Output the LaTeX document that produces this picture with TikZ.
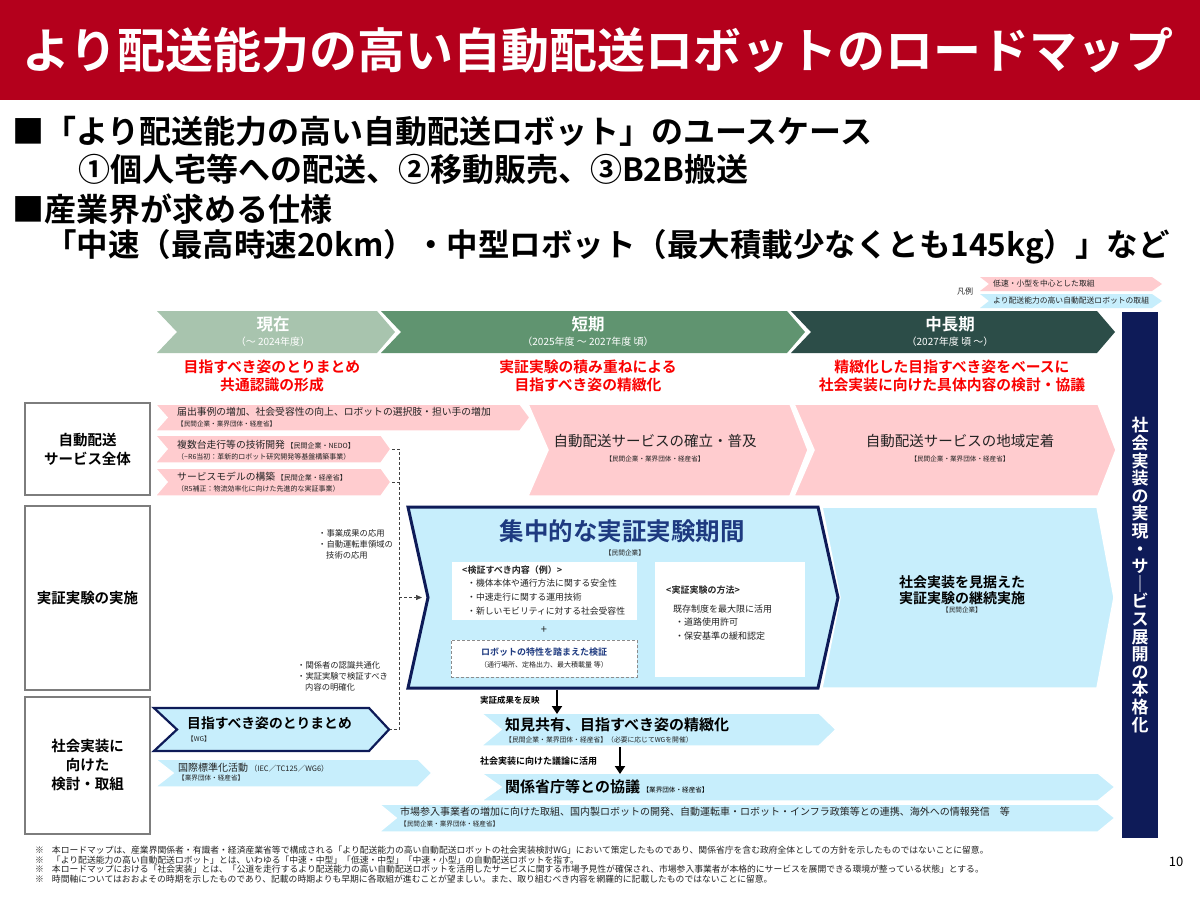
\documentclass[tikz,border=0pt]{standalone}
\usepackage{fontspec}
\setmainfont{Noto Sans CJK JP}[BoldFont={Noto Sans CJK JP Bold}]
\usetikzlibrary{arrows.meta}
\definecolor{titlered}{RGB}{180,0,28}
\definecolor{pinkf}{RGB}{255,204,207}
\definecolor{bluef}{RGB}{199,238,252}
\definecolor{navy}{RGB}{14,27,88}
\definecolor{navytxt}{RGB}{30,58,128}
\definecolor{phA}{RGB}{168,196,174}
\definecolor{phB}{RGB}{96,148,112}
\definecolor{phC}{RGB}{44,77,72}
\definecolor{redtxt}{RGB}{250,0,0}
\definecolor{txt}{RGB}{35,35,35}
\definecolor{boxgray}{RGB}{125,125,125}
\newcommand\fs[1]{\fontsize{#1}{#1}\selectfont}
\newcommand\chevshape[7]{\path[#1] (#2,#3) -- (#4,#3) -- ({#4+#7},{(#3+#5)/2}) -- (#4,#5) -- (#2,#5) -- ({#2+#6},{(#3+#5)/2}) -- cycle;}
\tikzset{
  lbl/.style={inner sep=0pt, text=txt},
  lw/.style={lbl, anchor=west},
  pinkbox/.style={fill=pinkf, draw=white, line width=1.5pt, line join=miter},
  bluebox/.style={fill=bluef, draw=white, line width=1.5pt, line join=miter},
  navybox/.style={fill=bluef, draw=navy, line join=miter},
  rowbox/.style={draw=boxgray, line width=1.2pt, fill=white, inner sep=0pt, align=center, text=black, font={\bfseries\fontsize{14.5}{19}\selectfont}},
  dconn/.style={draw=black!75, densely dashed, line width=0.7pt},
  thickarrow/.style={draw=black, line width=2.4pt, -{Triangle[width=10pt,length=8pt]}},
}
\begin{document}
\begin{tikzpicture}[x=1pt,y=-1pt]
\useasboundingbox (0,0) rectangle (1200,900);
\fill[white] (0,0) rectangle (1200,900);

% ---------- title bar ----------
\fill[titlered] (0,0) rectangle (1200,100);
\node[anchor=west, inner sep=0pt, text=white, font={\bfseries\fs{48}}] (title) at (22,50) {より配送能力の高い自動配送ロボットのロードマップ};

% ---------- bullets ----------
\node[anchor=west, inner sep=0pt, text=black, font={\bfseries\fs{32}}] (b1) at (12,131) {■「より配送能力の高い自動配送ロボット」のユースケース};
\node[anchor=west, inner sep=0pt, text=black, font={\bfseries\fs{32}}] (b2) at (78,169) {①個人宅等への配送、②移動販売、③B2B搬送};
\node[anchor=west, inner sep=0pt, text=black, font={\bfseries\fs{32}}] (b3) at (12,209) {■産業界が求める仕様};
\node[anchor=west, inner sep=0pt, text=black, font={\bfseries\fs{31.5}}] (b4) at (45,247) {「中速（最高時速20km）・中型ロボット（最大積載少なくとも145kg）」など};

% ---------- legend ----------
\node[lbl, font={\fs{8}}] (legend) at (965,291) {凡例};
\chevshape{fill=pinkf}{980}{277}{1152}{291}{9}{10}
\node[lw, font={\fs{7.8}}] (lg1) at (993,284) {低速・小型を中心とした取組};
\chevshape{fill=bluef}{980}{294}{1152}{308}{9}{10}
\node[lw, font={\fs{7.8}}] (lg2) at (993,301) {より配送能力の高い自動配送ロボットの取組};

% ---------- phase headers ----------
\chevshape{fill=phA}{157}{311}{377}{353}{20}{18}
\chevshape{fill=phB}{381}{311}{787}{353}{20}{18}
\chevshape{fill=phC}{791}{311}{1097}{353}{20}{18}
\node[inner sep=0pt, text=white, font={\bfseries\fs{16.5}}] (p1) at (273,324) {現在};
\node[inner sep=0pt, text=white, font={\fs{10}}] (p1y) at (273,342) {（～ 2024年度）};
\node[inner sep=0pt, text=white, font={\bfseries\fs{16.5}}] (p2) at (588,324) {短期};
\node[inner sep=0pt, text=white, font={\fs{10}}] (p2y) at (588,342) {（2025年度 ～ 2027年度 頃）};
\node[inner sep=0pt, text=white, font={\bfseries\fs{16.5}}] (p3) at (950,324) {中長期};
\node[inner sep=0pt, text=white, font={\fs{10}}] (p3y) at (950,342) {（2027年度 頃 ～）};

\node[inner sep=0pt, text=redtxt, align=center, font={\bfseries\fontsize{14.8}{18}\selectfont}] (g1) at (272,376) {目指すべき姿のとりまとめ\\共通認識の形成};
\node[inner sep=0pt, text=redtxt, align=center, font={\bfseries\fontsize{14.8}{18}\selectfont}] (g2) at (588,376) {実証実験の積み重ねによる\\目指すべき姿の精緻化};
\node[inner sep=0pt, text=redtxt, align=center, font={\bfseries\fontsize{14.8}{18}\selectfont}] (g3) at (952,376) {精緻化した目指すべき姿をベースに\\社会実装に向けた具体内容の検討・協議};

% ---------- right navy bar ----------
\fill[navy] (1122,312) rectangle (1158,838);
\node[inner sep=0pt, text=white, align=center, font={\bfseries\fontsize{17}{17.6}\selectfont}] (vbar) at (1140,575) {社\\会\\実\\装\\の\\実\\現\\・\\サ\\｜\\ビ\\ス\\展\\開\\の\\本\\格\\化};

% ---------- row labels ----------
\node[rowbox, minimum width=125pt, minimum height=92pt] (r1) at (87.5,449) {自動配送\\サービス全体};
\node[rowbox, minimum width=125pt, minimum height=184pt] (r2) at (87.5,598) {実証実験の実施};
\node[rowbox, minimum width=125pt, minimum height=137pt] (r3) at (87.5,765.5) {社会実装に\\向けた\\検討・取組};

% ---------- row 1 (pink) ----------
\chevshape{pinkbox}{528}{404}{790}{496}{20}{18}
\chevshape{pinkbox}{794}{404}{1098}{496}{20}{18}
\chevshape{pinkbox}{155}{404}{520}{431}{12}{10}
\chevshape{pinkbox}{155}{435}{381}{463}{12}{10}
\chevshape{pinkbox}{155}{468}{381}{496}{12}{10}

\node[lw, font={\fs{9.8}}] (a1) at (177,412) {届出事例の増加、社会受容性の向上、ロボットの選択肢・担い手の増加};
\node[lw, font={\fs{6.6}}] (a1s) at (177,424) {【民間企業・業界団体・経産省】};
\node[lw, font={\fs{9.8}}] (a2) at (177,445) {複数台走行等の技術開発\,{\fs{7}【民間企業・NEDO】}};
\node[lw, font={\fs{7}}] (a2s) at (177,457) {（\textasciitilde R6当初：革新的ロボット研究開発等基盤構築事業）};
\node[lw, font={\fs{9.8}}] (a3) at (177,477) {サービスモデルの構築\,{\fs{7}【民間企業・経産省】}};
\node[lw, font={\fs{7}}] (a3s) at (177,489) {（R5補正：物流効率化に向けた先進的な実証事業）};

\node[lbl, font={\fs{14.5}}] (s1) at (655,441) {自動配送サービスの確立・普及};
\node[lbl, font={\fs{6.6}}] (s1s) at (655,459) {【民間企業・業界団体・経産省】};
\node[lbl, font={\fs{14.5}}] (s2) at (960,441) {自動配送サービスの地域定着};
\node[lbl, font={\fs{6.6}}] (s2s) at (960,459) {【民間企業・業界団体・経産省】};

% ---------- row 2 ----------
\chevshape{bluebox}{822}{507}{1097}{688}{18}{17}
\chevshape{navybox, line width=3pt}{408}{507}{818}{688}{20}{20}
\coordinate (notch) at (428,597.5);

\node[inner sep=0pt, text=navytxt, font={\bfseries\fs{24.5}}] (ct1) at (622,531) {集中的な実証実験期間};
\node[lbl, font={\fs{6.7}}] (ct2) at (625,553) {【民間企業】};

\node[fill=white, inner sep=0pt, minimum width=185pt, minimum height=58pt] (wb1) at (544.5,591) {};
\node[lw, font={\bfseries\fs{9}}] (w1h) at (462,570) {<検証すべき内容（例）>};
\node[lw, font={\fs{8.8}}] (w1a) at (467,583) {・機体本体や通行方法に関する安全性};
\node[lw, font={\fs{8.8}}] (w1b) at (467,597) {・中速走行に関する運用技術};
\node[lw, font={\fs{8.8}}] (w1c) at (467,611) {・新しいモビリティに対する社会受容性};
\node[lbl, font={\fs{11}}] (plus) at (544,630) {+};
\node[fill=white, draw=black!45, densely dashed, line width=0.6pt, inner sep=0pt, minimum width=186pt, minimum height=37pt] (db) at (544,658.5) {};
\node[inner sep=0pt, text=navytxt, font={\bfseries\fs{9}}] (dbt) at (544,652) {ロボットの特性を踏まえた検証};
\node[lbl, font={\fs{7}}] (dbs) at (544,665) {（通行場所、定格出力、最大積載量 等）};

\node[fill=white, inner sep=0pt, minimum width=150pt, minimum height=115pt] (wb2) at (730,619.5) {};
\node[lw, font={\bfseries\fs{9}}] (w2h) at (666,590) {<実証実験の方法>};
\node[lw, font={\fs{9}}] (w2a) at (673,609) {既存制度を最大限に活用};
\node[lw, font={\fs{9}}] (w2b) at (675,622) {・道路使用許可};
\node[lw, font={\fs{9}}] (w2c) at (675,636) {・保安基準の緩和認定};

\node[inner sep=0pt, text=black, align=center, font={\bfseries\fontsize{14}{16}\selectfont}] (rb) at (962,590) {社会実装を見据えた\\実証実験の継続実施};
\node[lbl, font={\fs{6.6}}] (rbs) at (962,610) {【民間企業】};

\node[lw, font={\fs{8.3}}] (n1) at (318,533) {・事業成果の応用};
\node[lw, font={\fs{8.3}}] (n2) at (318,544) {・自動運転車領域の};
\node[lw, font={\fs{8.3}}] (n3) at (326,555) {技術の応用};
\node[lw, font={\fs{8.3}}] (n4) at (297,665) {・関係者の認識共通化};
\node[lw, font={\fs{8.3}}] (n5) at (297,676) {・実証実験で検証すべき};
\node[lw, font={\fs{8.3}}] (n6) at (305,687) {内容の明確化};

% ---------- row 3 ----------
\chevshape{navybox, line width=2.2pt}{154}{708}{369}{751}{23}{20}
\node[lw, text=black, font={\bfseries\fs{13.8}}] (m1) at (187,723) {目指すべき姿のとりまとめ};
\node[lw, font={\fs{6.6}}] (m1s) at (187,739) {【WG】};

\chevshape{bluebox}{155}{759}{418}{787}{18}{14}
\node[lw, font={\fs{10}}] (k1) at (178,768) {国際標準化活動\,{\fs{7.5}（IEC／TC125／WG6）}};
\node[lw, font={\fs{6.6}}] (k1s) at (178,778) {【業界団体・経産省】};

\chevshape{bluebox}{481}{713}{819}{746}{20}{17}
\node[lw, text=black, font={\bfseries\fs{15}}] (c1) at (505,725) {知見共有、目指すべき姿の精緻化};
\node[lw, font={\fs{6.8}}] (c1s) at (505,740) {【民間企業・業界団体・経産省】（必要に応じてWGを開催）};

\chevshape{bluebox}{481}{773}{1098}{801}{20}{17}
\node[lw, text=black, font={\bfseries\fs{15}}] (c2) at (505,787) {関係省庁等との協議\,{\mdseries\fs{6.6}【業界団体・経産省】}};

\chevshape{bluebox}{379}{804}{1098}{832}{17}{17}
\node[lw, font={\fs{10}}] (c3) at (400,812) {市場参入事業者の増加に向けた取組、国内製ロボットの開発、自動運転車・ロボット・インフラ政策等との連携、海外への情報発信　等};
\node[lw, font={\fs{6.6}}] (c3s) at (400,824) {【民間企業・業界団体・経産省】};

% ---------- thick arrows ----------
\node[lw, text=black, font={\bfseries\fs{8.5}}] (lab1) at (480,700) {実証成果を反映};
\coordinate (arA1) at (557,689.5);
\coordinate (arA2) at (557,714);
\draw[thickarrow] (arA1) -- (arA2);
\node[lw, text=black, font={\bfseries\fs{9}}] (lab2) at (480,761) {社会実装に向けた議論に活用};
\coordinate (arB1) at (620,747);
\coordinate (arB2) at (620,774);
\draw[thickarrow] (arB1) -- (arB2);

% ---------- dashed connectors ----------
\coordinate (btip) at (392,449);
\coordinate (ctip) at (392,482);
\coordinate (mtip) at (390,729.5);
\coordinate (vtop) at (399,449);
\coordinate (vbot) at (399,729.5);
\draw[dconn] (btip) -- (vtop) -- (vbot) -- (mtip);
\draw[dconn] (ctip) -- (ctip -| vtop);
\draw[dconn, -{Triangle[width=5pt,length=6pt]}] (vtop |- notch) -- ([xshift=-6pt]notch);

% ---------- footer ----------
\node[lbl, text=black, font={\fs{13}}] (pg) at (1176,862) {10};
\node[lw, font={\fs{8.8}}] (f1) at (35,850) {※\hspace{8pt}本ロードマップは、産業界関係者・有識者・経済産業省等で構成される「より配送能力の高い自動配送ロボットの社会実装検討WG」において策定したものであり、関係省庁を含む政府全体としての方針を示したものではないことに留意。};
\node[lw, font={\fs{8.8}}] (f2) at (35,859.7) {※\hspace{8pt}「より配送能力の高い自動配送ロボット」とは、いわゆる「中速・中型」「低速・中型」「中速・小型」の自動配送ロボットを指す。};
\node[lw, font={\fs{8.8}}] (f3) at (35,869.4) {※\hspace{8pt}本ロードマップにおける「社会実装」とは、「公道を走行するより配送能力の高い自動配送ロボットを活用したサービスに関する市場予見性が確保され、市場参入事業者が本格的にサービスを展開できる環境が整っている状態」とする。};
\node[lw, font={\fs{8.8}}] (f4) at (35,879.1) {※\hspace{8pt}時間軸についてはおおよその時期を示したものであり、記載の時期よりも早期に各取組が進むことが望ましい。また、取り組むべき内容を網羅的に記載したものではないことに留意。};
\end{tikzpicture}
\end{document}
